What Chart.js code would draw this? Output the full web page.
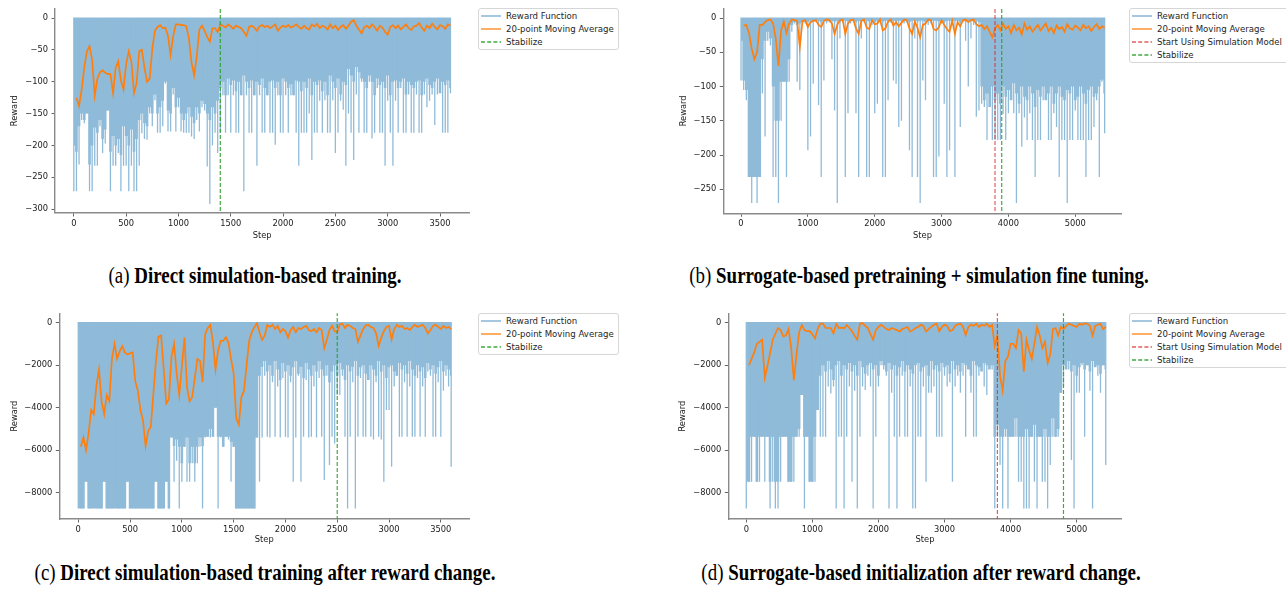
<!DOCTYPE html>
<html><head><meta charset="utf-8">
<script src="https://cdn.jsdelivr.net/npm/chart.js@4.4.1/dist/chart.umd.min.js"></script>
<style>
html,body{margin:0;padding:0;background:#fff;}
body{width:1286px;height:593px;position:relative;overflow:hidden;font-family:"DejaVu Sans";}
canvas{position:absolute;}
.legend{position:absolute;border:1px solid #d6d6d6;border-radius:3px;background:#fff;box-sizing:border-box;}
.item{position:absolute;left:0;height:12px;width:100%;white-space:nowrap;}
.sample{position:absolute;left:2px;top:4px;}
.ltext{position:absolute;left:27px;top:0;font-family:"DejaVu Sans";font-size:8.6px;line-height:12px;color:#262626;}
.cap{position:absolute;font-family:"Liberation Serif";font-size:23.5px;line-height:24px;white-space:nowrap;color:#000;transform-origin:center center;}
.cap b{font-weight:bold;}
</style>
</head><body>
<canvas id="ca" width="475" height="250" style="left:0px;top:0px"></canvas>
<canvas id="cb" width="470" height="250" style="left:660px;top:0px"></canvas>
<canvas id="cc" width="475" height="250" style="left:0px;top:300px"></canvas>
<canvas id="cd" width="470" height="250" style="left:660px;top:300px"></canvas>
<div id="legends"></div>
<div class="cap" style="left:255px;top:263px;transform:translateX(-50%) scaleX(0.805)">(a) <b>Direct simulation-based training.</b></div>
<div class="cap" style="left:919px;top:263px;transform:translateX(-50%) scaleX(0.805)">(b) <b>Surrogate-based pretraining + simulation fine tuning.</b></div>
<div class="cap" style="left:265px;top:560px;transform:translateX(-50%) scaleX(0.805)">(c) <b>Direct simulation-based training after reward change.</b></div>
<div class="cap" style="left:921px;top:560px;transform:translateX(-50%) scaleX(0.805)">(d) <b>Surrogate-based initialization after reward change.</b></div>
<script>
// ---------------- data ----------------
const legendLabels = ['Reward Function', '20-point Moving Average', 'Start Using Simulation Model', 'Stabilize'];

// Panel (a): every 25 steps (0..3600). rewardA = deepest value in each slot, bandA = depth of the solid part
const stepA = 25;
const rewardA = [
-272,-272,-230,-160,-165,-150,-272,-272,-232,-232,-170,-212,-197,-145,-272,-232,-232,-212,-272,-232,
-232,-272,-232,-272,-272,-232,-181,-190,-191,-150,-170,-129,-180,-180,-170,-103,-178,-178,-120,-178,
-140,-178,-180,-180,-180,-186,-190,-160,-178,-140,-145,-233,-292,-200,-180,-212,-180,-121,-180,-121,
-180,-121,-180,-180,-121,-272,-121,-180,-180,-121,-232,-121,-180,-180,-121,-180,-180,-199,-121,-180,
-180,-121,-180,-121,-121,-180,-232,-180,-180,-180,-150,-223,-180,-180,-130,-180,-129,-180,-180,-129,
-212,-180,-130,-144,-232,-150,-180,-223,-120,-180,-100,-180,-180,-100,-189,-180,-110,-180,-180,-232,
-130,-180,-232,-130,-180,-110,-180,-180,-120,-180,-180,-120,-180,-180,-120,-140,-130,-120,-168,-120,
-110,-180,-180,-180,-118];
const bandA = [
-200,-210,-170,-150,-160,-150,-230,-200,-172,-180,-160,-190,-175,-145,-210,-185,-200,-190,-215,-170,
-185,-200,-175,-210,-190,-160,-150,-165,-170,-140,-150,-120,
-150,-140,-130,-100,-145,-150,-110,-140,-125,-150,-160,-150,-140,-155,-165,-140,-150,-130,-135,-150,-160,-140,-150,-130,
-110,-100,-121,-95,-105,-98,-115,-100,-121,-90,-100,-110,-98,-121,-100,-105,-95,-110,-121,-100,
-98,-110,-100,-121,-95,-100,-110,-104,-121,-98,-100,-115,-100,-110,-95,-121,-100,-105,-98,-115,
-100,-121,-90,-100,-110,-95,-120,-100,-105,-80,-90,-100,-77,-85,-95,-100,-110,-90,-100,-121,
-95,-105,-100,-110,-90,-121,-100,-98,-110,-100,-95,-120,-100,-105,-110,-100,-98,-121,-100,-95,
-105,-110,-100,-95,-118,-100,-105,-98,-110];
const avgA = [null,
-125,-138,-112,-77,-52,-44,-66,-122,-95,-85,-82,-86,-88,-88,-118,-78,-68,-98,-112,-72,
-52,-68,-118,-102,-52,-50,-78,-100,-95,-48,-20,-14,-11,-16,-15,-28,-58,-28,-10,-10,
-11,-11,-13,-32,-70,-90,-60,-18,-12,-20,-30,-37,-16,-16,-22,-10,
-12,-15,-10,-13,-17,-12,-14,-16,-22,-28,-14,-12,-15,-20,-13,-11,-14,-12,-16,-13,
-10,-20,-15,-12,-14,-11,-15,-13,-10,-14,-17,-12,-16,-18,-10,-13,-9,-16,-12,
-14,-18,-10,-16,-12,-19,-14,-11,-17,-12,-6,-3,-12,-18,-24,-15,-12,-16,-10,-14,
-20,-12,-15,-22,-26,-14,-11,-16,-12,-18,-14,-10,-16,-19,-13,-12,-8,-15,-20,-12,
-16,-9,-14,-18,-11,-13,-17,-10,-12];
const xTicksA = [0,500,1000,1500,2000,2500,3000,3500];
const yTicksA = [0,-50,-100,-150,-200,-250,-300];
const stabilizeA = 1400;

// Panel (b): every 40 steps (0..5440)
const stepB = 40;
const rewardB = [
-91,-105,-120,-232,-270,-232,-270,-232,-110,-173,-33,-40,-232,-232,-270,-150,-93,-232,-93,-20,
-8,-93,-105,-10,-8,-193,-173,-96,-6,-127,-232,-91,-8,-6,-60,-135,-270,-30,-6,-232,
-139,-8,-6,-139,-232,-30,-6,-232,-232,-10,-139,-125,-6,-232,-232,-120,-6,-91,-96,-159,
-150,-8,-6,-193,-232,-30,-232,-270,-91,-120,-10,-8,-232,-232,-202,-8,-125,-232,-193,-10,
-232,-8,-159,-6,-33,-100,-30,-10,-144,-135,-125,-130,-178,-120,-178,-178,-178,-178,-140,-178,
-139,-93,-139,-270,-139,-188,-145,-178,-139,-178,-232,-178,-178,-120,-96,-178,-178,-139,-159,-232,
-178,-178,-270,-178,-178,-135,-178,-178,-178,-232,-178,-178,-159,-120,-232,-93,-168];
const bandB = [
-33,-91,-105,-232,-232,-232,-232,-232,-60,-33,-20,-30,-100,-150,-150,-93,-93,-93,-60,-10,
-6,-10,-8,-6,-5,-6,
-4,-5,-4,-4,-6,-4,-5,-4,-4,-5,-4,-6,-4,-4,-5,-4,-4,-6,-4,-5,-4,-4,-5,-4,-6,-4,-4,-5,-4,-4,
-6,-4,-5,-4,-4,-5,-4,-6,-4,-4,-5,-4,-4,-6,-4,-5,-4,-4,-5,-4,-6,-4,-4,-5,-4,-4,-6,-4,-5,-4,-4,-5,-4,-6,
-100,-120,-110,-130,-100,-120,-110,-125,-100,-115,-105,-120,-95,-110,-125,-100,-115,-120,-100,-110,
-130,-105,-115,-100,-120,-110,-100,-125,-110,-100,-115,-120,-105,-110,-100,-120,-115,-100,-110,-125,
-105,-100,-115,-110,-100,-90,-110];
const avgB = [null,
-11,-10,-22,-45,-60,-50,-10,-10,-6,-3,-2,-8,-30,-70,-18,-5,-22,-8,-2,-3,
-4,-42,-4,-3,-13,-6,-4,-3,-10,-13,-4,-2,-3,-8,-23,-10,-3,-2,-23,-8,
-3,-2,-15,-23,-4,-2,-14,-16,-3,-9,-8,-2,-18,-15,-5,-2,-11,-6,-12,-7,
-2,-3,-15,-23,-5,-14,-28,-10,-8,-2,-3,-16,-18,-13,-3,-10,-16,-20,-4,-23,
-6,-12,-3,-2,-6,-3,-2,-9,-12,-10,-16,-12,-20,-28,-15,-10,-18,-8,-16,-12,
-22,-10,-18,-14,-24,-8,-17,-12,-20,-15,-10,-18,-13,-8,-19,-14,-22,-11,-16,-13,
-20,-9,-15,-17,-11,-14,-18,-10,-15,-12,-19,-13,-9,-16,-12,-14];
const xTicksB = [0,1000,2000,3000,4000,5000];
const yTicksB = [0,-50,-100,-150,-200,-250];
const simStartB = 3800, stabilizeB = 3900;

// Panel (c): every 25 steps (0..3600)
const stepC = 25;
const rewardC = [
-8740,-8740,-8740,-7480,-8740,-8740,-7480,-8740,-8740,-8740,-7480,-8740,-8740,-8740,-7480,-8740,-8740,-8740,-8740,-7480,
-8740,-8740,-8740,-8740,-8740,-8740,-8740,-8740,-8740,-8740,-7480,-8740,-8740,-8740,-7480,-8740,
-5400,-7480,-6500,-8740,-7480,-5840,-7480,-7480,-6620,-7480,-6620,-5840,-8740,-5400,-5365,-5400,-5365,-4000,-8740,-5400,
-5840,-5365,-5500,-7480,-5840,-8740,-8740,-8740,-8740,-8740,-8740,-8740,-8740,-5400,
-7480,-5400,-2500,-5365,-5400,-2800,-5365,-3000,-5400,-2600,-5365,-5400,-2800,-7480,-5400,-2500,-7480,-5365,-2700,-5400,
-5365,-3000,-5400,-2600,-5365,
-7400,-2500,-6700,-5365,-5680,-3400,-3400,-2500,-5365,-8740,-5365,-2800,-8740,-5365,-2600,-5365,-5365,-2500,-5365,-5500,
-2800,-5365,-5500,-7480,-4110,-4110,-6780,-3000,-2500,-5365,-5365,-2800,-5365,-3000,-5365,-5365,-2600,-5365,-3000,-5365,
-2300,-2500,-5365,-5365,-2800,-5365,-3200,-2500,-3000,-6780];
const bandC = [
-8740,-8740,-8740,-7480,-8740,-8740,-8740,-8740,-8740,-8740,-7480,-8740,-8740,-8740,-8740,-8740,-8740,-8740,-8740,-7480,
-8740,-8740,-8740,-8740,-8740,-8740,-8740,-8740,-8740,-8740,-7480,-8740,-8740,-8740,-7480,-8740,
-5400,-5800,-5500,-5840,-6620,-5840,-5400,-6620,-5840,-6620,-5840,-5400,-5800,-5365,-5365,-5000,-5365,-4000,-5365,-5365,
-5840,-5365,-5365,-5600,
-5840,-8740,-8740,-8740,-8740,-8740,-8740,-8740,-8740,-5400,
-2500,-2070,-1800,-2300,-2000,-2500,-1800,-2200,-2700,-1900,-2300,-2000,-2500,-2100,-1800,-2400,-2070,-2600,-1900,-2200,
-2500,-2000,-2300,-1800,-2200,-2500,-2000,-2800,-2300,-2000,-2500,-1900,-2200,-2700,-2000,-2300,-2070,-1800,-2500,-2100,
-2000,-2400,-2700,-2000,-2200,-2500,-1800,-2300,-2000,-2600,-2100,-2000,-2300,-2500,-1900,-2200,-2000,-2400,-1800,-2200,
-2500,-2000,-2300,-2100,-2600,-1900,-2200,-2000,-2400,-2100,-1800,-2300,-2000,-2200,-2500];
const avgC = [null,
-5840,-5400,-6000,-5200,-4100,-4300,-2950,-2200,-3700,-4300,-3400,-3700,-1700,-1000,-1700,-1350,-1100,-1400,-1500,-1440,
-1400,-2750,-3200,-4100,-4600,-5800,-5100,-4900,-3350,-1800,-650,-600,-2200,-3800,-3600,
-1600,-1000,-2400,-3400,-2070,-700,-3050,-3700,-3500,-2600,-1700,-1800,-2800,-550,-250,-110,-900,-2200,-1300,-850,
-850,-680,-950,-1700,-2380,-4500,-4800,-3500,-3200,-2000,-850,-450,-200,-30,
-450,-815,-600,-110,-200,-100,-300,-150,-450,-300,-400,-700,-350,-200,-450,-250,-300,-200,-150,-350,
-400,-300,-450,-250,-350,
-1200,-800,-350,-150,-400,-450,-80,-50,-250,-100,-150,-250,-300,-900,-600,-300,-120,-100,-200,-250,
-500,-1100,-700,-400,-200,-150,-800,-300,-100,-200,-150,-300,-250,-350,-200,-100,-200,-150,-100,-250,
-500,-350,-150,-100,-200,-300,-150,-250,-200,-300];
const xTicksC = [0,500,1000,1500,2000,2500,3000,3500];
const yTicksC = [0,-2000,-4000,-6000,-8000];
const stabilizeC = 2500;

// Panel (d): every 40 steps (0..5440)
const stepD = 40;
const rewardD = [
-8740,-7480,-7480,-5365,-7480,-7480,-5365,-7480,-5365,-8740,-7480,-8740,-8740,-7480,-5365,-5365,-7480,-7480,-7480,-5365,
-5365,-3400,-8740,-5365,-7480,-7480,-7480,-4110,-5365,-5365,-5365,-3000,-3330,-3000,-8740,-5365,-5365,-8740,-5365,-3000,
-7480,-3200,-8740,-5365,-3000,-3170,-2500,-3000,-8740,-5365,-3000,-2000,-2200,-2500,-8740,-3300,-5365,-8740,-5365,-2500,
-5365,-5365,-3000,-8740,-8740,-5365,-5365,-3000,-7480,-3300,-3300,-3000,-5365,-5365,-5365,-2500,-3000,-2800,-7480,-3000,
-2500,-3300,-2500,-5365,-2000,-3300,-5365,-5365,-2500,-2000,-3000,-3400,-2000,-2200,-8740,-5365,-6700,-8740,-5365,-8740,
-5365,-5365,-5365,-7480,-7480,-8740,-8740,-8740,-5365,-7480,-8740,-5365,-7480,-7480,-8740,-6700,-5365,-5365,-5365,-3300,
-3000,-2000,-2200,-6460,-8740,-3300,-3300,-2000,-5365,-2000,-3200,-8740,-2000,-2500,-3300,-2000,-6700];
const bandD = [
-7480,-7480,-5365,-5365,-7480,-5365,-5365,-5365,-5365,-7480,-5365,-7480,-7480,-5365,-5365,-5365,-7480,-7480,-5365,-5365,
-5000,-3400,-5365,-5365,-7480,-7480,-5365,-4110,
-2500,-2000,-2300,-1800,-2200,-2700,-2000,-1800,-2500,-2000,-2200,-1900,-2300,-2000,-2500,-1800,-2100,-2400,-2000,-1900,
-2200,-2000,-2500,-1800,-2000,-2300,-1900,-2200,-2000,-2500,-2100,-1800,-2300,-2000,-2200,-2400,-2000,-1900,-2300,-2100,
-2000,-2500,-1800,-2200,-2000,-2300,-1900,-2100,-2000,-2400,-1800,-2200,-2000,-2300,-1900,-2000,-2200,-2500,-1800,-2000,
-2100,-2300,-1900,-2000,-2200,-2000,
-5365,-4800,-5365,-5365,-5000,-5365,-5365,-5365,-4500,-5365,-5365,-5365,-5000,-5365,-5365,-4800,-5365,-5365,-5365,-5000,
-5365,-5365,-4500,-5365,-5000,-3300,
-2000,-2200,-1800,-2300,-2000,-2500,-2100,-1900,-2200,-2000,-2300,-1800,-2100,-2000,-2400,-2000,-2200];
const avgD = [null,
-2000,-1700,-1400,-1000,-900,-800,-2600,-2050,-1440,-800,-520,-250,-350,-650,-600,-300,-1200,-2700,-1500,-450,
-110,-350,-400,-400,-550,-740,-300,-40,-40,-250,-250,-250,-500,-60,-250,-230,-260,-110,-250,-400,
-620,-800,-40,-20,-150,-250,-550,-800,-350,-200,-100,-200,-300,-350,-250,-300,-350,-420,-300,-250,
-200,-420,-350,-250,-200,-100,-150,-420,-300,-200,-100,-50,-400,-200,-100,-150,-400,-350,-150,-80,
-50,-200,-580,-200,-100,-150,-50,-200,-100,-150,-50,-200,-100,-1100,-600,-2500,-3200,-1800,-1600,-1000,
-1000,-1200,-350,-500,-2300,-800,-1300,-1700,-1000,-200,-600,-1200,-900,-1900,-1500,-300,-250,-600,-200,-300,
-150,-50,-100,-150,-200,-50,-100,-30,-50,-150,-600,-150,-100,-50,-300,-200];
const xTicksD = [0,1000,2000,3000,4000,5000];
const yTicksD = [0,-2000,-4000,-6000,-8000];
const simStartD = 3800, stabilizeD = 4800;

// ---------------- styles ----------------
const FONT = 'DejaVu Sans';
const BLUE = '#8fbbd9', ORANGE = '#ff7f0e', RED = 'rgba(214,39,40,0.75)', GREEN = 'rgba(44,160,44,0.9)';
function fmt(v){ return v < 0 ? '\u2212' + Math.abs(v) : String(v); }
function toPoints(arr, step){ const out = []; arr.forEach((v,i)=>{ if (v !== null) out.push({x:i*step, y:v}); }); return out; }
// each slot's deepest reward drawn as a vertical stroke from 0 down to its value
function spikePoints(arr, step){ const out = []; arr.forEach((v,i)=>{ const x = i*step; out.push({x, y:0}, {x, y:v}, {x, y:0}); }); return out; }

function makeChart(id, o){
  const datasets = [
    {label: 'band', data: toPoints(o.band, o.step), borderColor: BLUE, backgroundColor: BLUE,
     borderWidth: 0, fill: {value: 0}, stepped: 'middle', pointRadius: 0, order: 6},
    {label: legendLabels[0], data: spikePoints(o.reward, o.step), borderColor: BLUE,
     borderWidth: 1.3, fill: false, pointRadius: 0, order: 5},
    {label: legendLabels[1], data: toPoints(o.avg, o.step), borderColor: ORANGE, borderWidth: 1.7,
     fill: false, pointRadius: 0, order: 4, tension: 0}
  ];
  o.vlines.forEach(vl => datasets.push({label: vl.label, data: [{x: vl.x, y: o.ymin - 100000}, {x: vl.x, y: o.ymax + 100000}],
     borderColor: vl.color, borderWidth: 1.2, borderDash: [4, 2], pointRadius: 0, fill: false, order: vl.order}));
  const tickFont = {family: FONT, size: 8.3};
  new Chart(document.getElementById(id), {
    type: 'line',
    data: {datasets},
    options: {
      responsive: false, animation: false, events: [],
      layout: {padding: {top: o.padTop, right: o.padRight, left: 0, bottom: 0}},
      plugins: {legend: {display: false}, tooltip: {enabled: false}},
      scales: {
        x: {type: 'linear', min: o.xmin, max: o.xmax,
            afterBuildTicks: s => { s.ticks = o.xticks.map(v => ({value: v})); },
            afterFit: s => { s.height = o.xh; },
            grid: {display: true, drawOnChartArea: false, drawTicks: true, tickLength: 3.5, color: '#555', lineWidth: 0.9},
            border: {display: true, color: '#8a8a8a', width: 1.4},
            ticks: {autoSkip: false, maxRotation: 0, minRotation: 0, padding: 2, color: '#222', font: tickFont, callback: v => fmt(v)},
            title: {display: true, text: 'Step', color: '#222', font: tickFont, padding: {top: 0, bottom: o.xTitlePad}}},
        y: {type: 'linear', min: o.ymin, max: o.ymax,
            afterBuildTicks: s => { s.ticks = o.yticks.map(v => ({value: v})); },
            afterFit: s => { s.width = o.yw; },
            grid: {display: true, drawOnChartArea: false, drawTicks: true, tickLength: 3.5, color: '#555', lineWidth: 0.9},
            border: {display: true, color: '#8a8a8a', width: 1.4},
            ticks: {autoSkip: false, padding: 3.5, color: '#222', font: tickFont, callback: v => fmt(v)},
            title: {display: true, text: 'Reward', color: '#222', font: tickFont, padding: {top: o.yTitlePad, bottom: 0}}}
      }
    }
  });
}

makeChart('ca', {reward: rewardA, band: bandA, avg: avgA, step: stepA, xmin: -180, xmax: 3780, ymin: -306, ymax: 15,
  xticks: xTicksA, yticks: yTicksA, padTop: 8, padRight: 5.7, yw: 55, xh: 37, xTitlePad: 9, yTitlePad: 10,
  vlines: [{x: stabilizeA, color: GREEN, label: legendLabels[3], order: 1}]});
makeChart('cb', {reward: rewardB, band: bandB, avg: avgB, step: stepB, xmin: -265, xmax: 5695, ymin: -285, ymax: 14,
  xticks: xTicksB, yticks: yTicksB, padTop: 8, padRight: 8.3, yw: 63.3, xh: 36.7, xTitlePad: 9, yTitlePad: 18.7,
  vlines: [{x: simStartB, color: RED, label: legendLabels[2], order: 2}, {x: stabilizeB, color: GREEN, label: legendLabels[3], order: 1}]});
makeChart('cc', {reward: rewardC, band: bandC, avg: avgC, step: stepC, xmin: -183, xmax: 3775, ymin: -9238, ymax: 442,
  xticks: xTicksC, yticks: yTicksC, padTop: 13.3, padRight: 5.7, yw: 59.3, xh: 31, xTitlePad: 5, yTitlePad: 10,
  vlines: [{x: stabilizeC, color: GREEN, label: legendLabels[3], order: 1}]});
makeChart('cd', {reward: rewardD, band: bandD, avg: avgD, step: stepD, xmin: -272, xmax: 5681, ymin: -9238, ymax: 442,
  xticks: xTicksD, yticks: yTicksD, padTop: 13.3, padRight: 8.3, yw: 68.3, xh: 31, xTitlePad: 5, yTitlePad: 18.3,
  vlines: [{x: simStartD, color: RED, label: legendLabels[2], order: 2}, {x: stabilizeD, color: GREEN, label: legendLabels[3], order: 1}]});

// ---------------- legends (HTML, real text) ----------------
const SVGNS = 'http://www.w3.org/2000/svg';
function makeLegend(left, top, width, height, entries){
  const box = document.createElement('div');
  box.className = 'legend';
  box.style.left = left + 'px'; box.style.top = top + 'px';
  box.style.width = width + 'px'; box.style.height = height + 'px';
  entries.forEach((e, i) => {
    const it = document.createElement('div');
    it.className = 'item';
    it.style.top = (1.4 + i * 13) + 'px';
    const svg = document.createElementNS(SVGNS, 'svg');
    svg.setAttribute('class', 'sample'); svg.setAttribute('width', '20'); svg.setAttribute('height', '4');
    const ln = document.createElementNS(SVGNS, 'line');
    ln.setAttribute('x1', '0'); ln.setAttribute('y1', '2'); ln.setAttribute('x2', '20'); ln.setAttribute('y2', '2');
    ln.setAttribute('stroke', e.color); ln.setAttribute('stroke-width', '1.6');
    if (e.dash) ln.setAttribute('stroke-dasharray', '4,2.2');
    svg.appendChild(ln);
    const t = document.createElement('div');
    t.className = 'ltext';
    t.textContent = e.label;
    it.appendChild(svg); it.appendChild(t);
    box.appendChild(it);
  });
  document.getElementById('legends').appendChild(box);
}
const entBase = [{label: legendLabels[0], color: BLUE}, {label: legendLabels[1], color: 'rgba(255,127,14,0.8)'}];
makeLegend(478, 8, 141, 42, entBase.concat([{label: legendLabels[3], color: GREEN, dash: true}]));
makeLegend(1129, 8, 160, 55, entBase.concat([{label: legendLabels[2], color: RED, dash: true}, {label: legendLabels[3], color: GREEN, dash: true}]));
makeLegend(478, 313, 141, 42, entBase.concat([{label: legendLabels[3], color: GREEN, dash: true}]));
makeLegend(1129, 313, 160, 55, entBase.concat([{label: legendLabels[2], color: RED, dash: true}, {label: legendLabels[3], color: GREEN, dash: true}]));
</script>
</body></html>
